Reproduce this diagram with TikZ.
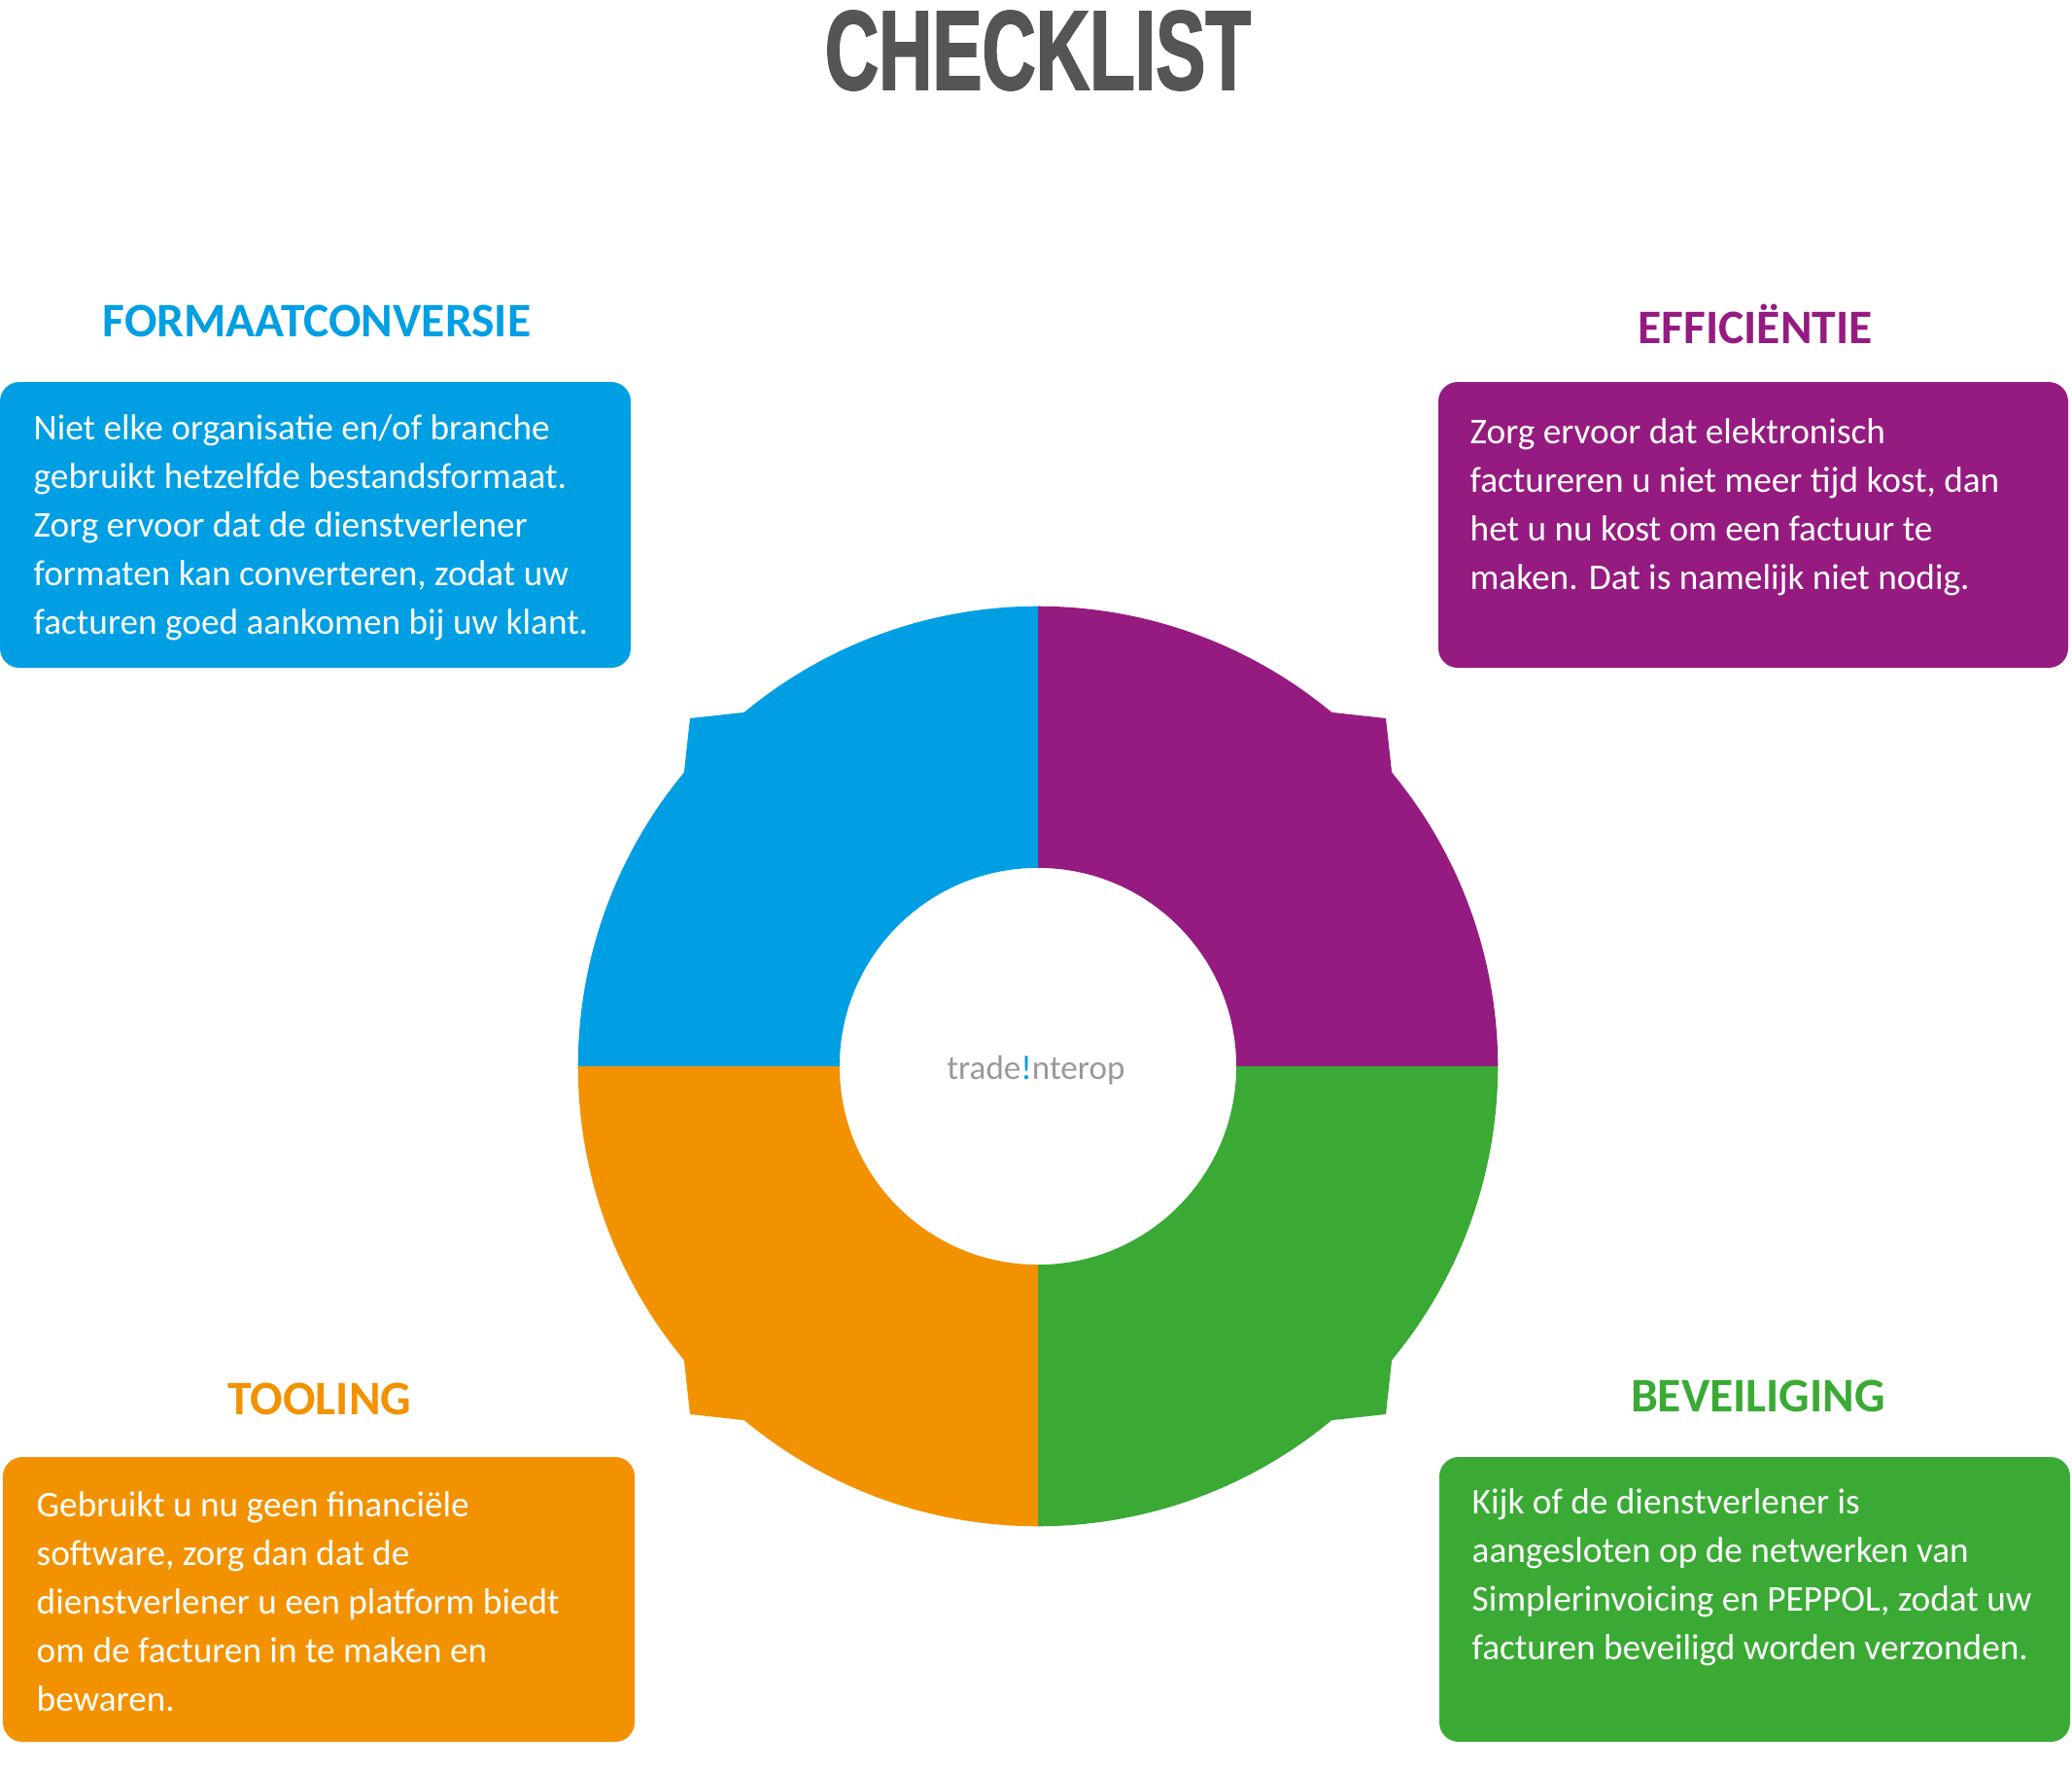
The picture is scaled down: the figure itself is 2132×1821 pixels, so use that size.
\documentclass[tikz,border=0pt]{standalone}
\usepackage{fontspec}
\usetikzlibrary{calc}
\setmainfont{Carlito}
\newfontfamily\titlefont[FakeStretch=0.66,FakeBold=1.5]{Liberation Sans Bold}
\definecolor{cblue}{HTML}{009FE3}
\definecolor{cpurple}{HTML}{951B81}
\definecolor{cgreen}{HTML}{3AAA35}
\definecolor{corange}{HTML}{F39200}
\definecolor{cgray}{HTML}{555555}
\begin{document}
\begin{tikzpicture}[x=0.01cm,y=-0.01cm,
  hdr/.style={font=\fontsize{14.1}{16}\selectfont\bfseries},
  card/.style={rounded corners=0.2cm},
  body/.style={anchor=north west,align=left,text=white,inner sep=0pt,font=\fontsize{10.6}{14.2}\selectfont}]
\useasboundingbox (0,0) rectangle (2132,1821);
\coordinate (c) at (1068,1097);
\foreach \a/\col in {0/cpurple,90/cblue,180/corange,270/cgreen}{
  \fill[\col] ($(c)+(\a:4.73cm)$) arc[start angle=\a, end angle=\a+39.7, radius=4.73cm]
    -- ($(c)+(\a+45:5.06cm)$) -- ($(c)+(\a+50.3:4.73cm)$)
    arc[start angle=\a+50.3, end angle=\a+90, radius=4.73cm]
    -- ($(c)+(\a+90:2.04cm)$) arc[start angle=\a+90, end angle=\a, radius=2.04cm] -- cycle;
}
\node[font=\fontsize{10}{12}\selectfont,text=gray!80] (logo) at (1066,1101) {trade\textcolor{cblue}{!}nterop};
\node[font=\titlefont\fontsize{33}{36}\selectfont,text=cgray] (title) at (1068,52) {CHECKLIST};
\node[hdr,text=cblue] (h1) at (326,330) {FORMAATCONVERSIE};
\node[hdr,text=cpurple] (h2) at (1806,333) {EFFICIËNTIE};
\node[hdr,text=corange] (h3) at (329,1439) {TOOLING};
\node[hdr,text=cgreen] (h4) at (1809,1436) {BEVEILIGING};
\fill[card,cblue] (0,393) rectangle (649,687);
\fill[card,cpurple] (1480,393) rectangle (2128,687);
\fill[card,corange] (3,1499) rectangle (653,1792);
\fill[card,cgreen] (1481,1499) rectangle (2130,1792);
\node[body] (t1) at (34,426) {Niet elke organisatie en/of branche\\gebruikt hetzelfde bestandsformaat.\\Zorg ervoor dat de dienstverlener\\formaten kan converteren, zodat uw\\facturen goed aankomen bij uw klant.};
\node[body] (t2) at (1512,430) {Zorg ervoor dat elektronisch\\factureren u niet meer tijd kost, dan\\het u nu kost om een factuur te\\maken. Dat is namelijk niet nodig.};
\node[body] (t3) at (37,1534) {Gebruikt u nu geen financiële\\software, zorg dan dat de\\dienstverlener u een platform biedt\\om de facturen in te maken en\\bewaren.};
\node[body] (t4) at (1514,1531) {Kijk of de dienstverlener is\\aangesloten op de netwerken van\\Simplerinvoicing en PEPPOL, zodat uw\\facturen beveiligd worden verzonden.};
\end{tikzpicture}
\end{document}
